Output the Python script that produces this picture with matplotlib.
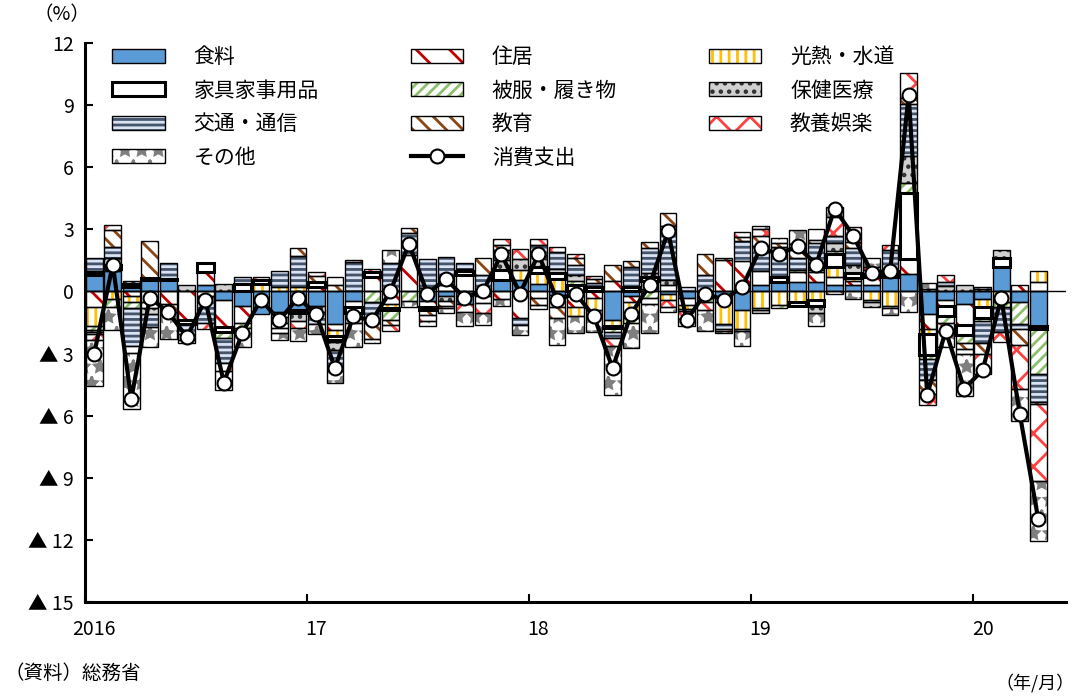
import numpy as np
import matplotlib
matplotlib.use("Agg")
import matplotlib.pyplot as plt
from matplotlib.patches import Patch
from matplotlib.lines import Line2D
from matplotlib.legend_handler import HandlerTuple

plt.rcParams['font.family'] = ['Noto Sans CJK JP', 'DejaVu Sans']
plt.rcParams['hatch.linewidth'] = 2.0

# 2016/1 - 2020/4, contributions (% pt)
food = [0.8, 1.0, 0.2, 0.55, 0.55, 0.0, 0.3, -0.4, -0.7, -1.1, -1.0, -0.9,
        -0.7, -1.55, -0.45, 0.0, 0.0, 0.0, -0.45, -0.2, -0.6, -0.2, 0.55, 0.55,
        0.35, -0.15, -0.1, 0.0, -1.4, -0.2, 0.1, -0.1, -0.3, -0.3, -0.5, -0.9,
        0.3, 0.45, 0.45, 0.45, 0.3, 0.3, 0.3, 0.7, 0.85, -1.1, -0.4, -0.6,
        -0.35, 1.2, -0.5, -1.65]
housing = [-0.75, 0.1, -0.2, -0.5, -0.6, -1.4, 0.65, -1.3, -0.8, 0.0, -0.25, 0.0,
           0.2, -0.3, -0.3, 0.7, -0.6, 1.75, -0.3, 0.3, 0.8, -0.35, -0.35, -1.3,
           -0.3, -0.6, -0.65, -0.3, 0.5, -0.3, 0.4, 0.3, -0.35, 0.0, 1.5, 1.45,
           0.7, 0.0, 0.5, 0.5, 0.4, 0.2, 0.4, 0.0, 0.7, -0.7, -0.3, -1.0,
           0.0, 0.0, 0.3, 0.45]
utilities = [-0.9, -0.35, -0.3, 0.0, 0.0, 0.0, 0.0, 0.0, 0.0, 0.35, 0.2, 0.2,
             0.0, -0.3, 0.0, 0.0, -0.2, 0.0, 0.0, 0.0, 0.0, 0.0, 0.0, 0.5,
             0.55, 0.6, -0.45, -0.6, -0.25, -0.8, 0.0, -0.3, -0.2, 0.0, -1.05, -0.9,
             -0.8, -0.65, -0.5, -0.4, 0.5, 0.15, -0.4, -0.7, 0.0, -0.25, 0.0, 0.0,
             -0.4, -0.5, 0.0, 0.55]
furniture = [0.15, 0.2, 0.15, 0.1, 0.05, -0.15, 0.4, -0.25, 0.35, 0.2, 0.0, -0.15,
             0.25, -0.2, -0.3, 0.25, -0.1, 0.0, -0.15, 0.0, 0.2, 0.0, 0.5, 0.0,
             0.3, 0.3, 0.3, 0.2, -0.1, 0.2, 0.2, 0.0, 0.0, 0.0, 0.0, 0.0,
             0.0, 0.25, -0.2, -0.3, 0.6, 0.25, 0.15, 0.3, 3.2, -1.0, -0.5, -0.5,
             -0.55, 0.4, 0.0, -0.15]
clothing = [-0.2, -0.4, -0.3, -0.3, 0.0, 0.0, -0.2, -0.3, -0.25, 0.0, 0.0, 0.0,
            0.0, -0.1, -0.15, -0.5, -0.5, -0.45, 0.15, 0.0, 0.0, 0.0, 0.0, 0.0,
            0.0, 0.0, 0.2, -0.25, -0.2, -0.2, -0.3, 0.0, -0.1, -0.2, 0.0, -0.1,
            -0.1, -0.15, 0.1, 0.1, 0.15, 0.0, -0.1, -0.1, 0.5, -0.2, -0.3, -0.4,
            -0.15, -0.25, -1.05, -2.2]
medical = [-0.1, 0.3, 0.15, -0.3, 0.0, 0.3, 0.0, 0.35, 0.0, 0.0, -0.25, -0.4,
           -0.3, -0.4, -0.3, 0.0, 0.0, 0.0, 0.0, -0.25, 0.1, 0.0, 0.45, 0.5,
           0.55, 0.2, 0.3, 0.0, 0.0, 0.0, 0.2, 0.25, 0.0, 0.0, 0.0, 0.0,
           -0.15, 0.0, 0.0, -0.35, 0.4, 0.4, -0.25, 0.0, 1.3, 0.1, 0.25, 0.3,
           0.1, 0.4, 0.0, 0.0]
transport = [0.65, 0.55, -1.85, -0.6, 0.75, -0.5, -1.3, -1.2, 0.35, 0.0, 0.8, 1.5,
             -0.55, -1.0, 1.4, -1.0, 1.35, 1.05, 1.4, 1.35, 0.25, 0.8, 0.5, -0.3,
             0.5, 0.8, 0.5, 0.2, -0.3, 1.0, 1.2, 2.6, 0.2, 0.8, -0.25, 1.0,
             1.2, 1.45, 0.55, 1.3, 0.35, 0.8, 0.2, 1.0, 2.5, -1.05, 0.2, 0.0,
             -1.05, -1.2, -0.25, -1.35]
education = [-0.1, 0.8, 0.0, 1.8, -0.4, -0.3, 0.0, 0.0, 0.0, 0.0, -0.25, 0.4,
             0.3, 0.3, 0.0, -0.8, -0.2, 0.25, -0.25, -0.25, 0.0, 0.8, 0.25, 0.0,
             -0.35, -0.55, 0.3, 0.2, 0.8, 0.25, 0.3, 0.65, 0.0, 1.0, 0.1, 0.2,
             0.5, 0.2, 0.4, 0.15, -0.1, 0.3, 0.0, 0.0, 0.3, -0.65, -0.4, -0.3,
             -0.5, 0.0, -0.8, -0.1]
recreation = [-0.3, 0.25, -0.3, 0.0, 0.0, -0.15, -0.3, -0.4, -0.25, 0.15, -0.25, -0.3,
              0.2, 0.4, 0.1, 0.15, -0.3, 0.0, -0.3, -0.1, -0.4, -0.5, 0.3, 0.5,
              0.3, 0.25, 0.2, 0.15, -0.4, 0.0, -0.3, -0.35, -0.4, -0.4, -0.1, 0.2,
              0.3, 0.0, 0.3, 0.5, 0.9, 0.7, 0.15, 0.25, 1.2, -0.55, 0.35, -0.2,
              -1.0, -0.5, -2.1, -3.7]
other = [-2.2, -1.1, -2.75, -1.0, -1.3, 0.0, 0.0, -0.9, -0.7, 0.0, -0.35, -0.65,
         -0.5, -0.55, -1.2, -0.2, 0.65, -0.3, -0.2, -0.25, -0.65, -0.55, -0.35, -0.5,
         -0.2, -1.3, -0.8, -0.8, -2.35, -1.25, -1.4, -0.25, -0.3, -1.0, -0.1, -0.75,
         0.15, 0.25, 0.65, -0.6, 0.5, -0.35, 0.4, -0.35, -1.0, 0.3, -0.8, -2.05,
         0.1, 0.0, -1.55, -2.9]
total = [-3.0, 1.3, -5.2, -0.3, -1.0, -2.2, -0.4, -4.4, -2.0, -0.4, -1.4, -0.3,
         -1.1, -3.7, -1.2, -1.4, 0.0, 2.3, -0.1, 0.6, -0.3, 0.0, 1.8, -0.1,
         1.8, -0.4, -0.1, -1.2, -3.7, -1.1, 0.3, 2.9, -1.4, -0.1, -0.4, 0.2,
         2.1, 1.8, 2.2, 1.3, 4.0, 2.7, 0.9, 1.0, 9.5, -5.0, -1.9, -4.7,
         -3.8, -0.3, -5.9, -11.0]

year_labels = ['2016', '17', '18', '19', '20']

# name, data, face, hatch, hatch colour, outline width
series = [
    ('食料', food, '#5B9BD5', '', '#5B9BD5', 1.0),
    ('住居', housing, 'white', '\\', '#C00000', 1.0),
    ('光熱・水道', utilities, 'white', '||', '#FFC000', 1.0),
    ('家具家事用品', furniture, 'white', '', 'white', 2.2),
    ('被服・履き物', clothing, 'white', '///', '#8CC06A', 1.0),
    ('保健医療', medical, '#D0D0D0', '..', '#303030', 1.0),
    ('交通・通信', transport, '#DAE3F3', '---', '#44546A', 1.0),
    ('教育', education, 'white', '\\\\', '#8B4513', 1.0),
    ('教養娯楽', recreation, 'white', 'x', '#FF4040', 1.0),
    ('その他', other, 'white', '*', '#7F7F7F', 1.0),
]

n = len(total)
x = np.arange(n) + 0.5

fig = plt.figure(figsize=(10.81, 6.98), dpi=100)
ax = fig.add_axes([85 / 1081, 1 - 602 / 698, 981 / 1081, 559 / 698])

pos_base = np.zeros(n)
neg_base = np.zeros(n)
handles = []
for name, vals, fc, hatch, hc, olw in series:
    v = np.array(vals)
    base = np.where(v > 0, pos_base, neg_base)
    m = v != 0
    ax.bar(x[m], v[m], bottom=base[m], width=0.9, color=fc, hatch=hatch,
           edgecolor=hc, linewidth=0, zorder=2)
    ax.bar(x[m], v[m], bottom=base[m], width=0.9, fill=False,
           edgecolor='black', linewidth=olw, zorder=3)
    handles.append((Patch(facecolor=fc, hatch=hatch, edgecolor=hc, linewidth=0),
                    Patch(fill=False, edgecolor='black', linewidth=olw)))
    pos_base += np.where(v > 0, v, 0)
    neg_base += np.where(v < 0, v, 0)

ax.axhline(0, color='black', linewidth=1.0, zorder=4)
ax.plot(x, total, color='black', linewidth=3, marker='o', markersize=10,
        markerfacecolor='white', markeredgecolor='black', markeredgewidth=1.5,
        zorder=5)

line_handle = Line2D([], [], color='black', linewidth=3, marker='o', markersize=10,
                     markerfacecolor='white', markeredgecolor='black',
                     markeredgewidth=1.5)

labels = [s[0] for s in series]
leg_h = [handles[0], handles[3], handles[6], handles[9],
         handles[1], handles[4], handles[7], line_handle,
         handles[2], handles[5], handles[8]]
leg_l = [labels[0], labels[3], labels[6], labels[9],
         labels[1], labels[4], labels[7], '消費支出',
         labels[2], labels[5], labels[8]]
fig.legend(leg_h, leg_l, loc='upper left', bbox_to_anchor=(0.104, 0.934),
           ncol=3, frameon=False, fontsize=15, handlelength=2.5,
           handleheight=0.65, handletextpad=1.4, columnspacing=4.4,
           labelspacing=0.55, borderpad=0, borderaxespad=0,
           handler_map={tuple: HandlerTuple(ndivide=1)})

ax.set_xlim(0, 53)
ax.set_ylim(-15, 12)
yt = np.arange(-15, 13, 3)
ax.set_yticks(yt)
ax.set_yticklabels([('▲ ' + str(-t)) if t < 0 else str(t) for t in yt], fontsize=14)
ax.set_xticks([0, 12, 24, 36, 48])
ax.set_xticklabels([])
ax.set_xticks([0.5, 12.5, 24.5, 36.5, 48.5], minor=True)
ax.set_xticklabels(year_labels, minor=True, fontsize=14)
ax.tick_params(axis='both', which='major', direction='in', length=6, width=1.5)
ax.tick_params(axis='x', which='minor', length=0, pad=12)
ax.tick_params(axis='y', pad=8)
for s in ['top', 'right']:
    ax.spines[s].set_visible(False)
for s in ['left', 'bottom']:
    ax.spines[s].set_linewidth(2.2)

fig.text(62 / 1081, 1 - 15 / 698, '（%）', fontsize=14, ha='center', va='center')
fig.text(5 / 1081, 1 - 673 / 698, '（資料）総務省', fontsize=14, ha='left', va='center')
fig.text(1075 / 1081, 1 - 683 / 698, '（年/月）', fontsize=13, ha='right', va='center')

fig.savefig('out.png', dpi=100)
